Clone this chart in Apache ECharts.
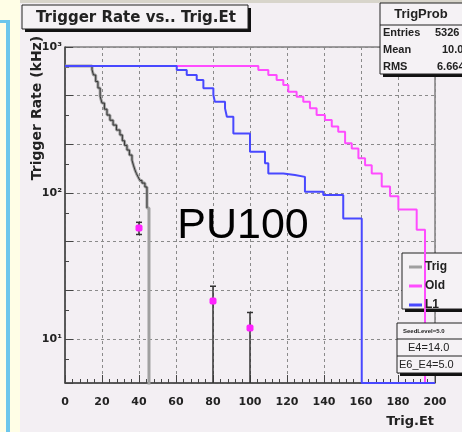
<!DOCTYPE html>
<html><head><meta charset="utf-8">
<script src="https://cdn.jsdelivr.net/npm/echarts@6/dist/echarts.min.js"></script>
<style>html,body{margin:0;padding:0;background:#fffee6;}#c{width:462px;height:432px;}</style>
</head><body><div id="c"></div>
<script>
// ---- data ----
const legendNames = ['Trig', 'Old', 'L1'];
const xTickLabels = ['0','20','40','60','80','100','120','140','160','180','200'];
const yTickValues = [10, 100, 1000];
const yTickLabels = ['10\u00b9', '10\u00b2', '10\u00b3'];
// [Trig.Et where the rate drops, rate after the drop] (kHz)
const trigSteps = [[0,741],[14.6,700],[15.4,643],[16.6,580],[17.8,524],[19,460],[20,413],[21.3,375],[22.7,342],[24.3,315],[26,292],[27.8,270],[29.7,250],[31,228],[32.2,212],[33.5,197],[34.8,182],[36.2,168],[37,155],[37.8,144],[38.6,136],[39.5,129],[40.5,122],[41.6,117],[43.2,110],[44.3,79],[45.4,1]];
const oldSteps = [[0,741],[104.5,695],[109.9,643],[114.4,594],[118,549],[120.7,494],[125.2,457],[128.8,422],[132.4,380],[136,342],[140.5,316],[144.2,285],[147.7,263],[151.4,219],[155,202],[158.6,173],[162.2,155],[165.8,136],[171.2,111],[175.7,95],[180.2,77],[190.1,56],[194.6,1]];
const l1Steps = [[0,741],[60.4,695],[65.8,643],[71.2,594],[74.8,522],[80.2,469],[81,422],[86.5,380],[87.5,333],[91,256],[100,192],[108.1,160],[109.9,136],[118,133],[124.3,129],[129.7,102],[139.6,97],[150.4,67],[160.4,5],[200,5]];
const markerEt = [40, 80, 100];
const markerRate = [57.5, 18.2, 11.9];
const markerHigh = [63, 23, 15.2];
const markerLow = [52, 1, 1];
const statNames = ['Entries', 'Mean', 'RMS'];
const statValues = ['5326', '10.0', '6.664'];
const infoLines = ['SeedLevel=5.0', 'E4=14.0', 'E6_E4=5.0'];

const FONT = '"Liberation Sans", Arial, sans-serif';
const WIDE = '"DejaVu Sans", sans-serif';
const chart = echarts.init(document.getElementById('c'), null, {renderer: 'canvas'});

function box(x, y, w, h, z) {
  return [
    {type:'rect', z: z, shape:{x:x+3, y:y+3, width:w, height:h}, style:{fill:'#111'}},
    {type:'rect', z: z, shape:{x:x, y:y, width:w, height:h}, style:{fill:'#f5f2f5', stroke:'#222', lineWidth:1}}
  ];
}

const graphics = [
  {type:'rect', z:-20, shape:{x:20, y:0, width:442, height:432}, style:{fill:'#f3eff3'}},
  {type:'rect', z:-19, shape:{x:20, y:0, width:442, height:3}, style:{fill:'#d8d5cb'}},
  {type:'rect', z:-19, shape:{x:6, y:20, width:4, height:412}, style:{fill:'#6cc6ec'}},
  {type:'rect', z:-19, shape:{x:0, y:20, width:10, height:3}, style:{fill:'#6cc6ec'}},
  ...box(22, 5, 226, 24, 20),
  {type:'text', z:21, style:{x:136, y:18, text:'Trigger Rate vs.. Trig.Et', font:'bold 15px ' + WIDE, fill:'#222', textAlign:'center', textVerticalAlign:'middle'}},
  ...box(380, 3, 90, 71, 20),
  {type:'line', z:21, shape:{x1:380, y1:25, x2:470, y2:25}, style:{stroke:'#222', lineWidth:1}},
  {type:'text', z:21, style:{x:421, y:14, text:'TrigProb', font:'bold 13px ' + FONT, fill:'#222', textAlign:'center', textVerticalAlign:'middle'}},
  {type:'text', z:-15, rotation:Math.PI/2, x:37, y:108, style:{x:0, y:0, text:'Trigger Rate (kHz)', font:'bold 14px ' + WIDE, fill:'#222', textAlign:'center', textVerticalAlign:'middle'}},
  {type:'text', z:-15, style:{x:434, y:422, text:'Trig.Et', font:'bold 13px ' + WIDE, fill:'#222', textAlign:'right', textVerticalAlign:'middle'}},
  {type:'text', z:5, style:{x:243, y:226, text:'PU100', font:'43px ' + FONT, fill:'#000', textAlign:'center', textVerticalAlign:'middle'}},
  ...box(402, 253, 70, 56, 3),
  ...box(397, 323, 75, 50, 20),
  {type:'line', z:21, shape:{x1:397, y1:339, x2:472, y2:339}, style:{stroke:'#222', lineWidth:1}},
  {type:'line', z:21, shape:{x1:397, y1:356, x2:472, y2:356}, style:{stroke:'#222', lineWidth:1}}
];
statNames.forEach((n, i) => {
  graphics.push({type:'text', z:21, style:{x:383, y:33 + i*17, text:n, font:'bold 11px ' + FONT, fill:'#222', textVerticalAlign:'middle'}});
  graphics.push({type:'text', z:21, style:{x:[435,442,437][i], y:33 + i*17, text:statValues[i], font:'bold 11px ' + FONT, fill:'#222', textVerticalAlign:'middle'}});
});
graphics.push({type:'text', z:21, style:{x:403, y:331, text:infoLines[0], font:'bold 6px ' + FONT, fill:'#222', textVerticalAlign:'middle'}});
graphics.push({type:'text', z:21, style:{x:408, y:348, text:infoLines[1], font:'11px ' + FONT, fill:'#222', textVerticalAlign:'middle'}});
graphics.push({type:'text', z:21, style:{x:399, y:365, text:infoLines[2], font:'11px ' + FONT, fill:'#222', textVerticalAlign:'middle'}});

const option = {
  animation: false,
  backgroundColor: 'transparent',
  grid: {left:65, right:27, top:47, bottom:49, show:true, borderColor:'#444', borderWidth:1},
  legend: {
    data: legendNames.map(n => ({name:n, icon:'rect'})),
    orient:'vertical', left:404, top:256, itemWidth:13, itemHeight:3, itemGap:7, z:4,
    textStyle:{fontFamily:FONT, fontWeight:'bold', fontSize:12, color:'#222', padding:[0,0,0,-2]}
  },
  xAxis: {
    type:'value', min:0, max:200, interval:20,
    axisLine:{lineStyle:{color:'#444', width:1.5}},
    axisTick:{inside:true, length:8, lineStyle:{color:'#444'}},
    minorTick:{show:true, splitNumber:5, length:4, lineStyle:{color:'#444'}},
    axisLabel:{margin:14, fontFamily:WIDE, fontWeight:'bold', fontSize:11, color:'#222',
      formatter: v => xTickLabels[Math.round(v/20)]},
    splitLine:{show:true, lineStyle:{color:'#8a8a8a', type:[3,3], width:1}}
  },
  yAxis: {
    type:'log', logBase: Math.cbrt(10), min:5, max:1000,
    axisLine:{show:true, lineStyle:{color:'#444', width:1.5}},
    axisTick:{inside:true, length:8, lineStyle:{color:'#444'}},
    minorTick:{show:true, splitNumber:2, length:4, lineStyle:{color:'#444'}},
    axisLabel:{margin:3, fontFamily:WIDE, fontWeight:'bold', fontSize:11, color:'#222',
      formatter: v => {
        const e = Math.log10(v);
        for (let i = 0; i < yTickValues.length; i++) {
          if (Math.abs(e - Math.log10(yTickValues[i])) < 0.02) return yTickLabels[i];
        }
        return '';
      }},
    splitLine:{show:true, lineStyle:{color:'#8a8a8a', type:[3,3], width:1}}
  },
  graphic: graphics,
  series: [
    {name:'Trig', type:'line', step:'end', data:trigSteps, symbol:'none', z:2,
      lineStyle:{color:'#a0a0a0', width:3}, itemStyle:{color:'#a0a0a0'}},
    {name:'TrigDark', type:'line', step:'end', data:trigSteps.slice(0, trigSteps.length - 1), symbol:'none', z:2,
      lineStyle:{color:'#333', width:1}},
    {name:'Old', type:'line', step:'end', data:oldSteps, symbol:'none', z:3,
      lineStyle:{color:'#ff4cff', width:2}, itemStyle:{color:'#ff4cff'}},
    {name:'L1', type:'line', step:'end', data:l1Steps, symbol:'none', z:3,
      lineStyle:{color:'#4848ff', width:2}, itemStyle:{color:'#4848ff'}},
    {name:'points', type:'custom', z:4,
      data: markerEt.map((x, i) => [x, markerRate[i], markerHigh[i], markerLow[i]]),
      encode:{x:0, y:1},
      renderItem: (params, api) => {
        const x = api.value(0);
        const p = api.coord([x, api.value(1)]);
        const ph = api.coord([x, api.value(2)]);
        const pl = api.coord([x, api.value(3)]);
        const bottom = params.coordSys.y + params.coordSys.height;
        const ly = Math.min(pl[1], bottom);
        const kids = [
          {type:'line', shape:{x1:p[0], y1:ph[1], x2:p[0], y2:ly}, style:{stroke:'#333', lineWidth:1.5}},
          {type:'line', shape:{x1:p[0]-3, y1:ph[1], x2:p[0]+3, y2:ph[1]}, style:{stroke:'#333', lineWidth:1.5}}
        ];
        if (pl[1] < bottom) kids.push({type:'line', shape:{x1:p[0]-3, y1:pl[1], x2:p[0]+3, y2:pl[1]}, style:{stroke:'#333', lineWidth:1.5}});
        kids.push({type:'rect', shape:{x:p[0]-3.5, y:p[1]-3.5, width:7, height:7, r:2}, style:{fill:'#ff22ff'}});
        return {type:'group', children:kids};
      }}
  ]
};
chart.setOption(option);
</script></body></html>
